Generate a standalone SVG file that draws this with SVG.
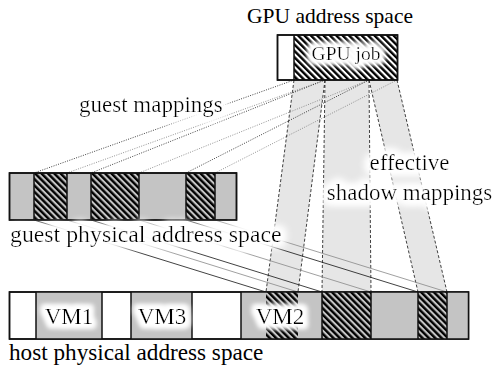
<svg xmlns="http://www.w3.org/2000/svg" width="496" height="365" viewBox="0 0 496 365">
<style>
text{font-family:'Liberation Serif',Tinos,'Times New Roman',Times,serif;fill:#000}
.lbl{font-size:23px}
.box{stroke:#111;stroke-width:1.5}
.gray{fill:#c4c4c4}
.dot{stroke:#111;stroke-width:0.8;stroke-dasharray:1 1.4;fill:none}
.dotg{stroke:#777;stroke-width:0.8;stroke-dasharray:1 1.4;fill:none}
.dash{stroke:#111;stroke-width:0.8;stroke-dasharray:3 2;fill:none}
.sol{stroke:#111;stroke-width:0.8;fill:none}
.solg{stroke:#888;stroke-width:0.8;fill:none}
.band{fill:#e6e6e6;stroke:none}
</style>
<defs>
<pattern id="hatch" patternUnits="userSpaceOnUse" width="4.5" height="4.5" patternTransform="rotate(-45)">
<rect x="0" y="0" width="2.4" height="4.5" fill="#000"/>
</pattern>
<filter id="halo" x="-30%" y="-80%" width="160%" height="260%">
<feMorphology in="SourceAlpha" operator="dilate" radius="2.5" result="d"/>
<feGaussianBlur in="d" stdDeviation="4" result="b"/>
<feFlood flood-color="#fff"/>
<feComposite in2="b" operator="in" result="w"/>
<feMerge><feMergeNode in="w"/><feMergeNode in="w"/><feMergeNode in="w"/><feMergeNode in="SourceGraphic"/></feMerge>
</filter>
<filter id="halo2" x="-40%" y="-80%" width="180%" height="260%">
<feMorphology in="SourceAlpha" operator="dilate" radius="4" result="d"/>
<feGaussianBlur in="d" stdDeviation="2.5" result="b"/>
<feFlood flood-color="#fff"/>
<feComposite in2="b" operator="in" result="w"/>
<feMerge><feMergeNode in="w"/><feMergeNode in="w"/><feMergeNode in="SourceGraphic"/></feMerge>
</filter>
</defs>

<g id="shadow-bands">
<polygon class="band" points="294,80 325,80 298,292 266,292"/>
<polygon class="band" points="325,80 369,80 371,292 322,292"/>
<polygon class="band" points="369,80 397,80 447,292 418,292"/>
</g>

<g id="connectors">
<line class="dash" x1="294" y1="80" x2="266" y2="292"/>
<line class="dash" x1="325" y1="80" x2="298" y2="292"/>
<line class="dash" x1="325" y1="80" x2="322" y2="292"/>
<line class="dash" x1="369" y1="80" x2="371" y2="292"/>
<line class="dash" x1="369" y1="80" x2="418" y2="292"/>
<line class="dash" x1="397" y1="80" x2="447" y2="292"/>
<line class="dot" x1="294" y1="80" x2="34" y2="173"/>
<line class="dotg" x1="325" y1="80" x2="67" y2="173"/>
<line class="dot" x1="325" y1="80" x2="91" y2="173"/>
<line class="dotg" x1="369" y1="80" x2="139" y2="173"/>
<line class="dot" x1="369" y1="80" x2="186" y2="173"/>
<line class="dotg" x1="397" y1="80" x2="215" y2="173"/>
<line class="sol" x1="34" y1="220" x2="266" y2="292"/>
<line class="solg" x1="67" y1="220" x2="298" y2="292"/>
<line class="sol" x1="91" y1="220" x2="322" y2="292"/>
<line class="solg" x1="139" y1="220" x2="371" y2="292"/>
<line class="sol" x1="186" y1="220" x2="418" y2="292"/>
<line class="solg" x1="215" y1="220" x2="447" y2="292"/>
</g>

<g id="gpu">
<rect class="box" x="277.5" y="35" width="120" height="45" fill="#fff"/>
<rect x="294" y="35" width="103.5" height="45" fill="url(#hatch)"/>
<line class="box" x1="294" y1="35" x2="294" y2="80"/>
<rect class="box" x="277.5" y="35" width="120" height="45" fill="none"/>
<text x="346" y="59.5" font-size="19.5" text-anchor="middle" filter="url(#halo2)">GPU job</text>
<text x="413" y="23" font-size="21.5" text-anchor="end">GPU address space</text>
</g>

<g id="guest">
<rect class="box gray" x="9.5" y="173" width="227" height="47"/>
<rect x="34" y="173" width="33" height="47" fill="url(#hatch)"/>
<rect x="91" y="173" width="48" height="47" fill="url(#hatch)"/>
<rect x="186" y="173" width="29" height="47" fill="url(#hatch)"/>
<g class="box">
<line x1="34" y1="173" x2="34" y2="220"/><line x1="67" y1="173" x2="67" y2="220"/>
<line x1="91" y1="173" x2="91" y2="220"/><line x1="139" y1="173" x2="139" y2="220"/>
<line x1="186" y1="173" x2="186" y2="220"/><line x1="215" y1="173" x2="215" y2="220"/>
</g>
<rect class="box" x="9.5" y="173" width="227" height="47" fill="none"/>
<text x="10" y="242" font-size="23.8" filter="url(#halo)">guest physical address space</text>
</g>

<g id="host">
<rect class="box" x="9.5" y="292" width="459" height="47" fill="#fff"/>
<rect class="gray" x="36" y="292" width="66" height="47"/>
<rect class="gray" x="131" y="292" width="61" height="47"/>
<rect class="gray" x="241" y="292" width="227.5" height="47"/>
<rect x="266" y="292" width="32" height="47" fill="url(#hatch)"/>
<rect x="322" y="292" width="49" height="47" fill="url(#hatch)"/>
<rect x="418" y="292" width="29" height="47" fill="url(#hatch)"/>
<g class="box">
<line x1="36" y1="292" x2="36" y2="339"/><line x1="102" y1="292" x2="102" y2="339"/>
<line x1="131" y1="292" x2="131" y2="339"/><line x1="192" y1="292" x2="192" y2="339"/>
<line x1="241" y1="292" x2="241" y2="339"/>
<line x1="322" y1="292" x2="322" y2="339"/><line x1="371" y1="292" x2="371" y2="339"/>
<line x1="418" y1="292" x2="418" y2="339"/><line x1="447" y1="292" x2="447" y2="339"/>
</g>
<rect class="box" x="9.5" y="292" width="459" height="47" fill="none"/>
<text class="lbl" x="69" y="323.5" text-anchor="middle" filter="url(#halo2)">VM1</text>
<text class="lbl" x="162" y="323.5" text-anchor="middle" filter="url(#halo2)">VM3</text>
<text class="lbl" x="280" y="323.5" text-anchor="middle" filter="url(#halo2)">VM2</text>
<text x="9" y="360" font-size="23.2">host physical address space</text>
</g>

<g id="labels">
<text class="lbl" x="79" y="112" filter="url(#halo)">guest mappings</text>
<text class="lbl" text-anchor="middle" filter="url(#halo)"><tspan x="409.5" y="170">effective</tspan><tspan x="409.5" y="199.5">shadow mappings</tspan></text>
</g>
</svg>
